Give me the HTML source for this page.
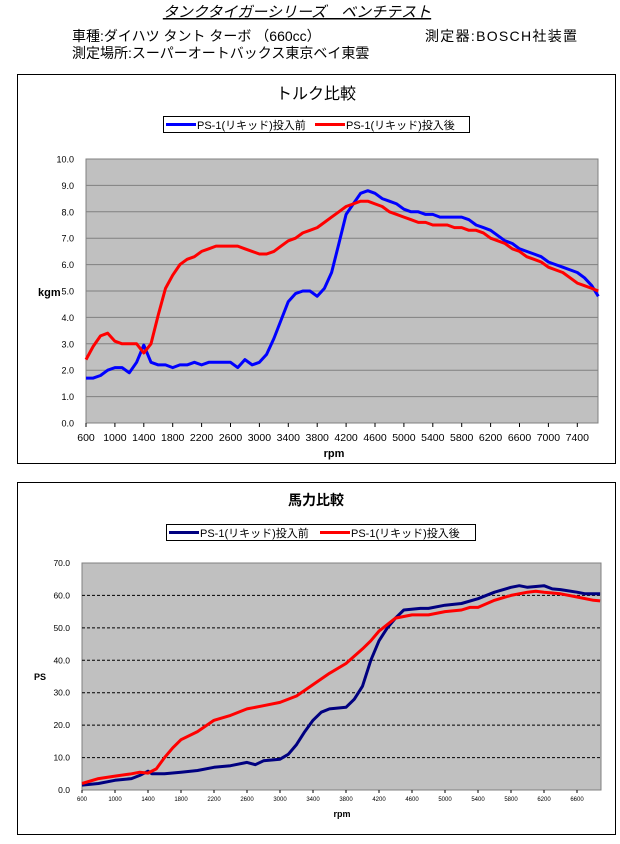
<!DOCTYPE html>
<html><head><meta charset="utf-8"><style>
body{margin:0;background:#fff;width:620px;height:839px;overflow:hidden;font-family:"Liberation Sans","Noto Sans CJK JP",sans-serif;}
svg text{font-family:"Liberation Sans","Noto Sans CJK JP",sans-serif;}
</style></head><body>
<svg id="s" width="620" height="839" xmlns="http://www.w3.org/2000/svg">
<text x="297" y="17" font-size="15" text-anchor="middle" font-style="italic" text-decoration="underline">タンクタイガーシリーズ　ベンチテスト</text>
<text x="72" y="41" font-size="14">車種:ダイハツ タント ターボ （660cc）</text>
<text x="425" y="41" font-size="14" textLength="152">測定器:BOSCH社装置</text>
<text x="72" y="58" font-size="14">測定場所:スーパーオートバックス東京ベイ東雲</text>
<rect x="17.5" y="74.5" width="598" height="389" fill="#fff" stroke="#000"/>
<text x="316" y="99" font-size="16" text-anchor="middle">トルク比較</text>
<rect x="163.5" y="116.5" width="306" height="16" fill="#fff" stroke="#000"/>
<line x1="166" y1="124.5" x2="196" y2="124.5" stroke="#0000ff" stroke-width="3"/>
<text x="197" y="129" font-size="11">PS-1(リキッド)投入前</text>
<line x1="315" y1="124.5" x2="345" y2="124.5" stroke="#ff0000" stroke-width="3"/>
<text x="346" y="129" font-size="11">PS-1(リキッド)投入後</text>
<rect x="86" y="159" width="512" height="264" fill="#c0c0c0" stroke="#808080"/>
<g id="g1"></g>
<text x="38" y="296" font-size="11" font-weight="bold">kgm</text>
<text x="334" y="457" font-size="11" font-weight="bold" text-anchor="middle">rpm</text>
<rect x="17.5" y="482.5" width="598" height="352" fill="#fff" stroke="#000"/>
<text x="316" y="505" font-size="14" text-anchor="middle" font-weight="bold">馬力比較</text>
<rect x="166.5" y="524.5" width="309" height="16" fill="#fff" stroke="#000"/>
<line x1="169" y1="532.5" x2="199" y2="532.5" stroke="#000080" stroke-width="3"/>
<text x="200" y="537" font-size="11">PS-1(リキッド)投入前</text>
<line x1="320" y1="532.5" x2="350" y2="532.5" stroke="#ff0000" stroke-width="3"/>
<text x="351" y="537" font-size="11">PS-1(リキッド)投入後</text>
<rect x="82" y="563" width="519" height="227" fill="#c0c0c0" stroke="#808080"/>
<g id="g2"></g>
<text x="34" y="680" font-size="9" font-weight="bold">PS</text>
<text x="342" y="817" font-size="9" font-weight="bold" text-anchor="middle">rpm</text>
</svg>
<script>
var NS="http://www.w3.org/2000/svg";
function el(g,t,a,txt){var e=document.createElementNS(NS,t);for(var k in a)e.setAttribute(k,a[k]);if(txt!==undefined)e.textContent=txt;g.appendChild(e);return e;}
var g1=document.getElementById('g1'),g2=document.getElementById('g2');
function X1(r){return 86+(r-600)/400*28.9;} function Y1(v){return 423-v*26.4;}
for(var i=0;i<=10;i++){var y=Y1(i);if(i>0&&i<10)el(g1,'line',{x1:86,x2:598,y1:y,y2:y,stroke:'#808080','stroke-width':1});
el(g1,'text',{x:74,y:y+3.5,'font-size':9,'text-anchor':'end'},i.toFixed(1));}
for(var r=600;r<=7400;r+=400){var x=X1(r);el(g1,'line',{x1:x,x2:x,y1:423,y2:427,stroke:'#000'});el(g1,'text',{x:x,y:441,'font-size':10.5,'text-anchor':'middle'},r);}
function pl(g,d,X,Y,c){var p=[];for(var i=0;i<d.length;i+=2)p.push(X(d[i]).toFixed(1)+','+Y(d[i+1]).toFixed(1));el(g,'polyline',{points:p.join(' '),fill:'none',stroke:c,'stroke-width':3,'stroke-linejoin':'round'});}
var b1=[600,1.7,700,1.7,800,1.8,900,2.0,1000,2.1,1100,2.1,1200,1.9,1300,2.3,1400,2.95,1500,2.3,1600,2.2,1700,2.2,1800,2.1,1900,2.2,2000,2.2,2100,2.3,2200,2.2,2300,2.3,2400,2.3,2500,2.3,2600,2.3,2700,2.1,2800,2.4,2900,2.2,3000,2.3,3100,2.6,3200,3.2,3300,3.9,3400,4.6,3500,4.9,3600,5.0,3700,5.0,3800,4.8,3900,5.1,4000,5.7,4100,6.8,4200,7.9,4300,8.3,4400,8.7,4500,8.8,4600,8.7,4700,8.5,4800,8.4,4900,8.3,5000,8.1,5100,8.0,5200,8.0,5300,7.9,5400,7.9,5500,7.8,5600,7.8,5700,7.8,5800,7.8,5900,7.7,6000,7.5,6100,7.4,6200,7.3,6300,7.1,6400,6.9,6500,6.8,6600,6.6,6700,6.5,6800,6.4,6900,6.3,7000,6.1,7100,6.0,7200,5.9,7300,5.8,7400,5.7,7500,5.5,7600,5.2,7690,4.8];
var r1=[600,2.4,700,2.9,800,3.3,900,3.4,1000,3.1,1100,3.0,1200,3.0,1300,3.0,1400,2.65,1500,3.0,1600,4.1,1700,5.1,1800,5.6,1900,6.0,2000,6.2,2100,6.3,2200,6.5,2300,6.6,2400,6.7,2500,6.7,2600,6.7,2700,6.7,2800,6.6,2900,6.5,3000,6.4,3100,6.4,3200,6.5,3300,6.7,3400,6.9,3500,7.0,3600,7.2,3700,7.3,3800,7.4,3900,7.6,4000,7.8,4100,8.0,4200,8.2,4300,8.3,4400,8.4,4500,8.4,4600,8.3,4700,8.2,4800,8.0,4900,7.9,5000,7.8,5100,7.7,5200,7.6,5300,7.6,5400,7.5,5500,7.5,5600,7.5,5700,7.4,5800,7.4,5900,7.3,6000,7.3,6100,7.2,6200,7.0,6300,6.9,6400,6.8,6500,6.6,6600,6.5,6700,6.3,6800,6.2,6900,6.1,7000,5.9,7100,5.8,7200,5.7,7300,5.5,7400,5.3,7500,5.2,7600,5.1,7690,5.0];
pl(g1,b1,X1,Y1,'#0000ff');pl(g1,r1,X1,Y1,'#ff0000');
function X2(r){return 82+(r-600)/400*33;} function Y2(v){return 790-v*227/70;}
for(var i=0;i<=7;i++){var y=Y2(i*10);if(i>0&&i<7)el(g2,'line',{x1:82,x2:601,y1:y,y2:y,stroke:'#000','stroke-width':1,'stroke-dasharray':'3,2'});
el(g2,'text',{x:70,y:y+3,'font-size':8.5,'text-anchor':'end'},(i*10).toFixed(1));}
for(var r=600;r<=6600;r+=400){var x=X2(r);el(g2,'line',{x1:x,x2:x,y1:790,y2:793,stroke:'#000'});el(g2,'text',{x:x,y:801,'font-size':6,'text-anchor':'middle'},r);}
var b2=[600,1.5,800,2,1000,3,1200,3.5,1300,4.5,1400,5.8,1450,5,1600,5,1800,5.5,2000,6,2200,7,2400,7.5,2600,8.5,2700,7.8,2800,9,3000,9.5,3100,11,3200,14,3300,18,3400,21.5,3500,24,3600,25,3800,25.5,3900,28,4000,32,4100,40,4200,46,4300,50,4400,53,4500,55.5,4700,56,4800,56,5000,57,5200,57.5,5400,59,5600,61,5800,62.5,5900,63,6000,62.5,6200,63,6300,62,6400,61.8,6600,61,6700,60.5,6880,60.5];
var r2=[600,2,800,3.5,1000,4.3,1200,5,1300,5.5,1400,5.2,1500,6.5,1600,10,1700,13,1800,15.5,2000,18,2200,21.5,2400,23,2600,25,2800,26,3000,27,3200,29,3400,32.5,3600,36,3800,39,4000,43.5,4100,46,4200,49,4300,51,4400,53,4600,54,4800,54,5000,55,5200,55.5,5300,56.3,5400,56.3,5600,58.5,5800,60,6000,61,6100,61.3,6200,61,6400,60.5,6600,59.5,6800,58.5,6880,58.3];
pl(g2,b2,X2,Y2,'#000080');pl(g2,r2,X2,Y2,'#ff0000');
</script>
</body></html>
